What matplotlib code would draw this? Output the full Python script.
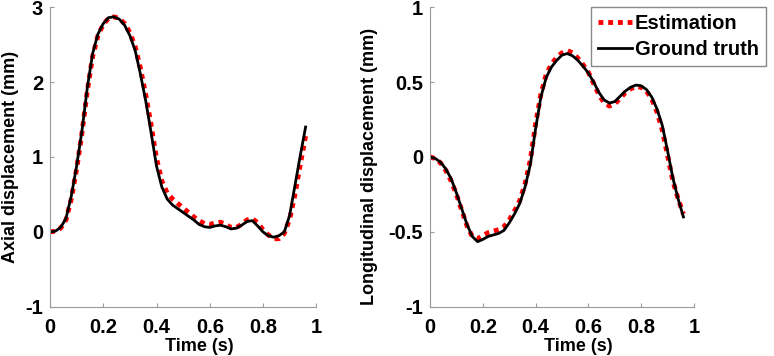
import numpy as np
import matplotlib.pyplot as plt

plt.rcParams['font.family'] = 'Liberation Sans'
plt.rcParams['font.weight'] = 'bold'

# time axis (s)
time = np.arange(49) * 0.02

# axial displacement (mm)
axial_truth = [0.00, 0.01, 0.06, 0.18, 0.48, 0.88, 1.35, 1.92, 2.38, 2.64,
               2.78, 2.86, 2.87, 2.84, 2.76, 2.62, 2.42, 2.10, 1.74, 1.32,
               0.88, 0.60, 0.44, 0.36, 0.31, 0.26, 0.21, 0.16, 0.10, 0.07,
               0.06, 0.08, 0.09, 0.07, 0.04, 0.05, 0.09, 0.14, 0.15, 0.08,
               0.00, -0.05, -0.07, -0.05, 0.00, 0.22, 0.62, 1.02, 1.40]
axial_est = [0.00, 0.01, 0.05, 0.16, 0.44, 0.84, 1.32, 1.88, 2.34, 2.62,
             2.77, 2.85, 2.87, 2.85, 2.78, 2.66, 2.47, 2.18, 1.82, 1.42,
             0.98, 0.68, 0.52, 0.44, 0.38, 0.32, 0.26, 0.20, 0.15, 0.11,
             0.10, 0.12, 0.13, 0.10, 0.06, 0.06, 0.10, 0.16, 0.18, 0.12,
             0.03, -0.04, -0.09, -0.09, -0.02, 0.17, 0.50, 0.90, 1.28]

# longitudinal displacement (mm)
long_truth = [0.00, -0.01, -0.035, -0.08, -0.145, -0.24, -0.345, -0.45, -0.53, -0.565,
              -0.55, -0.53, -0.52, -0.51, -0.49, -0.44, -0.38, -0.31, -0.20, -0.05,
              0.19, 0.40, 0.53, 0.60, 0.645, 0.68, 0.69, 0.675, 0.645, 0.605,
              0.56, 0.50, 0.43, 0.38, 0.36, 0.37, 0.405, 0.44, 0.465, 0.48,
              0.475, 0.45, 0.40, 0.32, 0.21, 0.04, -0.14, -0.28, -0.40]
long_est = [0.00, -0.01, -0.04, -0.09, -0.16, -0.25, -0.355, -0.46, -0.53, -0.545,
            -0.525, -0.505, -0.495, -0.485, -0.465, -0.42, -0.36, -0.29, -0.18, -0.02,
            0.22, 0.42, 0.55, 0.62, 0.665, 0.695, 0.71, 0.695, 0.66, 0.615,
            0.565, 0.49, 0.415, 0.36, 0.34, 0.355, 0.39, 0.43, 0.455, 0.47,
            0.465, 0.44, 0.385, 0.30, 0.18, 0.01, -0.16, -0.28, -0.38]

x_ticks = [0, 0.2, 0.4, 0.6, 0.8, 1]
x_labels = ['0', '0.2', '0.4', '0.6', '0.8', '1']
axial_ticks = [-1, 0, 1, 2, 3]
axial_labels = ['-1', '0', '1', '2', '3']
long_ticks = [-1, -0.5, 0, 0.5, 1]
long_labels = ['-1', '-0.5', '0', '0.5', '1']

fig = plt.figure(figsize=(7.74, 3.56), dpi=100)
ax1 = fig.add_axes([0.0646, 0.138, 0.344, 0.842])
ax2 = fig.add_axes([0.5556, 0.138, 0.341, 0.842])

panels = [
    (ax1, axial_est, axial_truth, (-1, 3), axial_ticks, axial_labels, 'Axial displacement (mm)'),
    (ax2, long_est, long_truth, (-1, 1), long_ticks, long_labels, 'Longitudinal displacement (mm)'),
]

for ax, est, truth, ylim, yt, ytl, ylab in panels:
    ax.plot(time, est, color='red', lw=3.5, linestyle=(0, (1, 1)), label='Estimation')
    ax.plot(time, truth, color='black', lw=2, label='Ground truth')
    ax.set_xlim(0, 1)
    ax.set_ylim(*ylim)
    ax.set_xticks(x_ticks)
    ax.set_xticklabels(x_labels)
    ax.set_yticks(yt)
    ax.set_yticklabels(ytl)
    ax.tick_params(direction='in', length=3, color='#999999', labelsize=14.5)
    ax.tick_params(axis='x', pad=8)
    ax.tick_params(axis='y', pad=5)
    for s in ['top', 'right']:
        ax.spines[s].set_visible(False)
    for s in ['left', 'bottom']:
        ax.spines[s].set_color('#999999')
    ax.set_xlabel('Time (s)', fontsize=13, fontweight='bold')
    ax.xaxis.set_label_coords(0.56, -0.105)
    ax.set_ylabel(ylab, fontsize=13, fontweight='bold')

ax1.yaxis.set_label_coords(-0.118, 0.5)
ax2.yaxis.set_label_coords(-0.198, 0.47)

leg = ax2.legend(loc='upper right', bbox_to_anchor=(766 / 774, 1 - 7 / 356),
                 bbox_transform=fig.transFigure, borderaxespad=0, fancybox=False,
                 framealpha=1, edgecolor='#888888', fontsize=14.5,
                 handlelength=1.7, handletextpad=0.15, borderpad=0.35, labelspacing=0.35)
leg.get_frame().set_linewidth(1)

fig.savefig('out.png', dpi=100)
